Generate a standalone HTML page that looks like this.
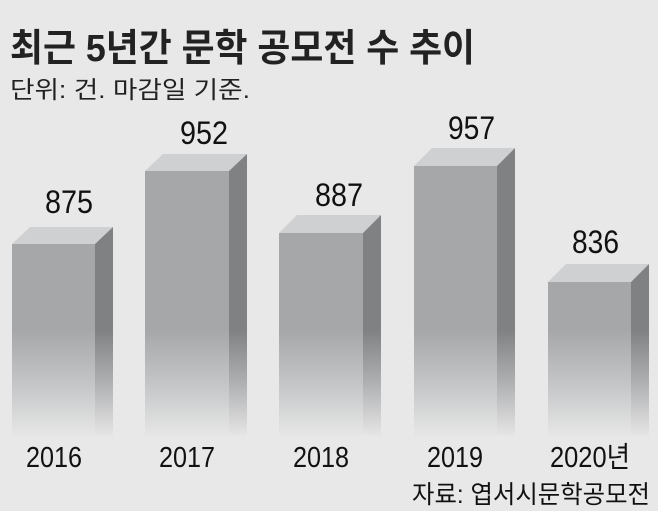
<!DOCTYPE html>
<html><head><meta charset="utf-8"><style>
html,body{margin:0;padding:0;background:#e8e8e8;}
svg{display:block;font-family:"Liberation Sans","Noto Sans CJK KR",sans-serif;}
</style></head><body>
<svg width="658" height="511" viewBox="0 0 658 511" xmlns="http://www.w3.org/2000/svg">
<defs>
<linearGradient id="fade" x1="0" y1="330" x2="0" y2="438" gradientUnits="userSpaceOnUse">
<stop offset="0" stop-color="#a6a7a9"/>
<stop offset="0.5" stop-color="#c4c5c7"/>
<stop offset="1" stop-color="#e8e8e8"/>
</linearGradient>
<linearGradient id="fadeside" x1="0" y1="330" x2="0" y2="438" gradientUnits="userSpaceOnUse">
<stop offset="0" stop-color="#808183"/>
<stop offset="0.5" stop-color="#b0b1b3"/>
<stop offset="1" stop-color="#e8e8e8"/>
</linearGradient>
</defs>
<rect width="658" height="511" fill="#e8e8e8"/>
<text x="10" y="61" font-size="38" font-weight="bold" fill="#222" textLength="465" lengthAdjust="spacingAndGlyphs">최근 5년간 문학 공모전 수 추이</text>
<text x="10" y="98" font-size="24" fill="#222" textLength="240" lengthAdjust="spacingAndGlyphs">단위: 건. 마감일 기준.</text>

<g>
<polygon points="12,244 30,227 113,227 95,244" fill="#cfd0d1"/>
<rect x="12" y="244" width="83" height="86" fill="#a6a7a9"/>
<polygon points="95,244 113,227 113,330 95,330" fill="#808183"/>
<rect x="12" y="330" width="83" height="108" fill="url(#fade)"/>
<rect x="95" y="330" width="18" height="108" fill="url(#fadeside)"/>

<polygon points="145,171 163,154 247,154 229,171" fill="#cfd0d1"/>
<rect x="145" y="171" width="84" height="159" fill="#a6a7a9"/>
<polygon points="229,171 247,154 247,330 229,330" fill="#808183"/>
<rect x="145" y="330" width="84" height="108" fill="url(#fade)"/>
<rect x="229" y="330" width="18" height="108" fill="url(#fadeside)"/>

<polygon points="279,233 297,215 381,215 363,233" fill="#cfd0d1"/>
<rect x="279" y="233" width="84" height="97" fill="#a6a7a9"/>
<polygon points="363,233 381,215 381,330 363,330" fill="#808183"/>
<rect x="279" y="330" width="84" height="108" fill="url(#fade)"/>
<rect x="363" y="330" width="18" height="108" fill="url(#fadeside)"/>

<polygon points="414,166 432,148 515,148 497,166" fill="#cfd0d1"/>
<rect x="414" y="166" width="83" height="164" fill="#a6a7a9"/>
<polygon points="497,166 515,148 515,330 497,330" fill="#808183"/>
<rect x="414" y="330" width="83" height="108" fill="url(#fade)"/>
<rect x="497" y="330" width="18" height="108" fill="url(#fadeside)"/>

<polygon points="548,282 566,264 649,264 631,282" fill="#cfd0d1"/>
<rect x="548" y="282" width="83" height="48" fill="#a6a7a9"/>
<polygon points="631,282 649,264 649,330 631,330" fill="#808183"/>
<rect x="548" y="330" width="83" height="108" fill="url(#fade)"/>
<rect x="631" y="330" width="18" height="108" fill="url(#fadeside)"/>
</g>

<g font-size="32" fill="#111">
<text x="45" y="213" textLength="48" lengthAdjust="spacingAndGlyphs">875</text>
<text x="180" y="144" textLength="48" lengthAdjust="spacingAndGlyphs">952</text>
<text x="315" y="206" textLength="48" lengthAdjust="spacingAndGlyphs">887</text>
<text x="448" y="139" textLength="47" lengthAdjust="spacingAndGlyphs">957</text>
<text x="572" y="253" textLength="47" lengthAdjust="spacingAndGlyphs">836</text>
</g>
<g font-size="29" fill="#111">
<text x="26" y="467" textLength="56" lengthAdjust="spacingAndGlyphs">2016</text>
<text x="159" y="467" textLength="56" lengthAdjust="spacingAndGlyphs">2017</text>
<text x="293" y="467" textLength="56" lengthAdjust="spacingAndGlyphs">2018</text>
<text x="427" y="467" textLength="56" lengthAdjust="spacingAndGlyphs">2019</text>
<text x="550" y="467" textLength="80" lengthAdjust="spacingAndGlyphs">2020년</text>
</g>
<text x="412" y="503" font-size="25" fill="#111" textLength="238" lengthAdjust="spacingAndGlyphs">자료: 엽서시문학공모전</text>
</svg>
</body></html>
